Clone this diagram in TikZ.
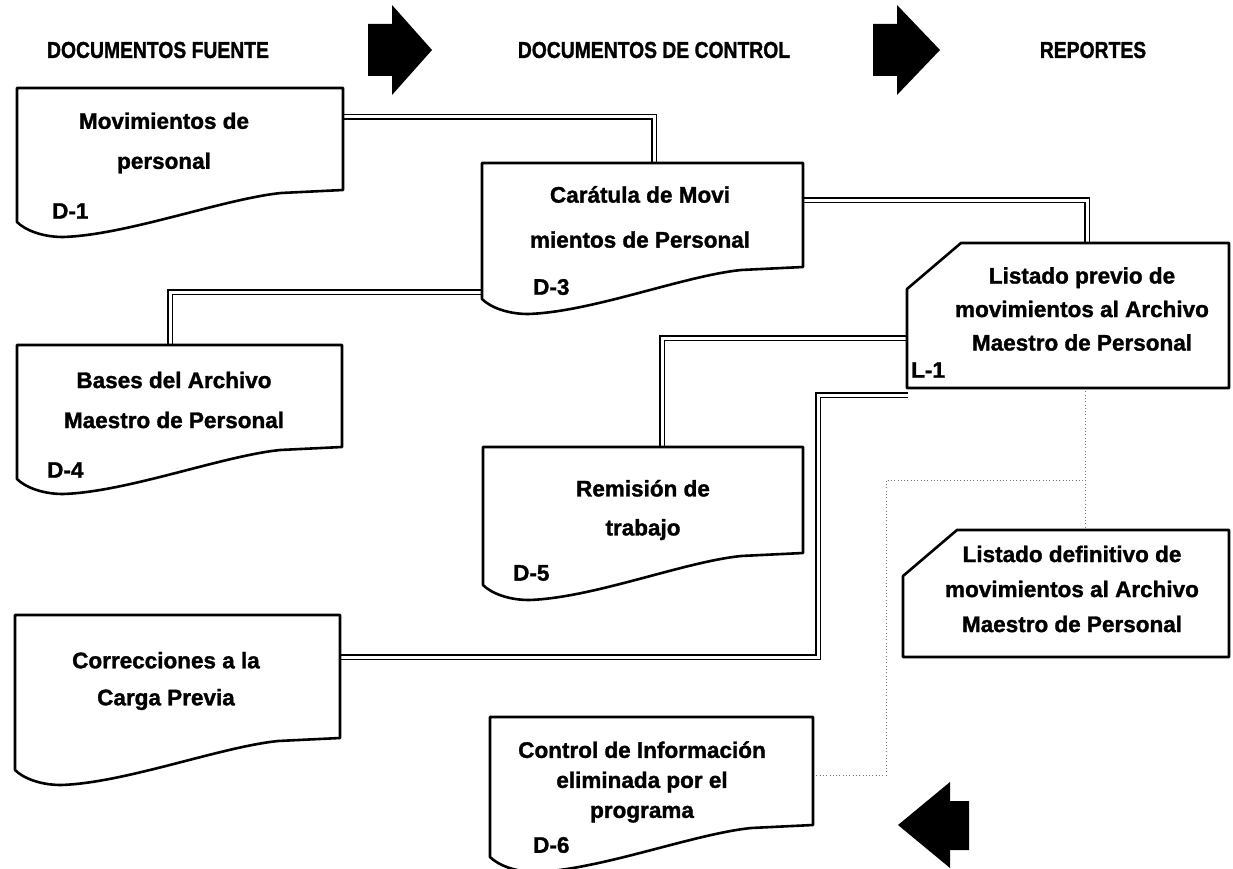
\documentclass[tikz,border=0pt]{standalone}
\usepackage{fontspec}
\setmainfont{Liberation Sans}[BoldFeatures={FakeBold=1.4}]
\usetikzlibrary{calc}

% document symbol: flat top, wavy bottom edge
\newcommand\docoutline[1]{%
  \draw[outline] (#1.north west) -- (#1.north east) -- (#1.south east)
    -- ($(#1.south east)+(-62,3)$)
    .. controls ($(#1.south east)+(-120,9)$) and ($(#1.south west)+(110,45)$) .. ($(#1.south west)+(46,47)$)
    .. controls ($(#1.south west)+(25,47)$) and ($(#1.south west)+(8,40)$) .. ($(#1.south west)+(0,32)$)
    -- cycle;}
% report symbol: rectangle with the top-left corner cut off
\newcommand\cardoutline[1]{%
  \draw[outline] ($(#1.north west)+(54,0)$) -- (#1.north east) -- (#1.south east)
    -- (#1.south west) -- ($(#1.north west)+(0,46)$) -- cycle;}
% narrow setting for the column headings
\newcommand\narrowhead[1]{\scalebox{0.84}[1]{#1}}

\tikzset{
  box/.style={draw=none, inner sep=0pt, outer sep=0pt, anchor=north west},
  outline/.style={draw=black, line width=2.6pt, line join=round},
  txt/.style={font=\bfseries\fontsize{22.5}{#1}\selectfont, align=center, inner sep=0pt},
  tag/.style={font=\bfseries\fontsize{22.5}{27}\selectfont, anchor=west, inner sep=0pt},
  heading/.style={font=\bfseries\fontsize{23}{27}\selectfont, inner sep=0pt},
  pipe/.style={draw=black, double=white, double distance=3pt, line width=1.2pt},
  dots/.style={draw=black!55, line width=0.9pt, dash pattern=on 0.9pt off 2.4pt},
  bigarrow/.style={fill=black, draw=none},
}

\begin{document}
\begin{tikzpicture}[x=1pt,y=-1pt]
\fill[white] (0,0) rectangle (1233,869);
\useasboundingbox (0,0) rectangle (1233,869);

% column headings and flow arrows
\node[heading] (t1) at (158,50) {\narrowhead{DOCUMENTOS FUENTE}};
\node[heading] (t2) at (654,50) {\narrowhead{DOCUMENTOS DE CONTROL}};
\node[heading] (t3) at (1093,50) {\narrowhead{REPORTES}};
\path[bigarrow] (368,24) -- (392,24) -- (392,5) -- (432,50) -- (392,95) -- (392,76) -- (368,76) -- cycle;
\path[bigarrow] (873,24) -- (897,24) -- (897,5) -- (940,50) -- (897,95) -- (897,76) -- (873,76) -- cycle;
\path[bigarrow] (969,801) -- (950,801) -- (950,782) -- (898,825) -- (950,868) -- (950,850) -- (969,850) -- cycle;

% frames of the documents and reports
\node[box, minimum width=326pt, minimum height=102pt] (d1) at (17,88) {};
\node[box, minimum width=321pt, minimum height=104pt] (d3) at (482,163) {};
\node[box, minimum width=325pt, minimum height=102pt] (d4) at (17,345) {};
\node[box, minimum width=320pt, minimum height=106pt] (d5) at (483,447) {};
\node[box, minimum width=325pt, minimum height=123pt] (corr) at (15,615) {};
\node[box, minimum width=323pt, minimum height=108pt] (d6) at (490,717) {};
\node[box, minimum width=322pt, minimum height=145pt] (l1) at (907,243) {};
\node[box, minimum width=326pt, minimum height=127pt] (l2) at (903,530) {};

% double-line connectors
\draw[pipe] ($(d1.north east)+(0,29)$) -| ($(d3.north west)+(172,0)$);
\draw[pipe] ($(d3.north east)+(0,37)$) -| ($(l1.north west)+(180,0)$);
\draw[pipe] ($(d3.south west)+(0,25)$) -| ($(d4.north west)+(153,0)$);
\draw[pipe] ($(l1.south west)+(0,-50)$) -| ($(d5.north west)+(179,0)$);
\coordinate (c5s) at ($(l1.south west)+(1,7)$);
\draw[pipe] (c5s) -- ++(-90,0) |- ($(corr.north east)+(0,42)$);

% dotted connectors
\coordinate (j) at ($(l1.south west)+(178,92)$);
\draw[dots] ($(l1.south west)+(178,0)$) -- ($(l2.north west)+(182,0)$);
\draw[dots] ($(d6.north east)+(0,58)$) -| ($(j)+(-199,0)$) -- (j);

% outlines
\docoutline{d1}
\docoutline{d3}
\docoutline{d4}
\docoutline{d5}
\docoutline{corr}
\docoutline{d6}
\cardoutline{l1}
\cardoutline{l2}

% texts
\node[txt=40] (d1t) at (164,143) {Movimientos de\\personal};
\node[txt=45] (d3t) at (640,217) {Carátula de Movi\\mientos de Personal};
\node[txt=40] (d4t) at (174,400) {Bases del Archivo\\Maestro de Personal};
\node[txt=39] (d5t) at (643,510) {Remisión de\\trabajo};
\node[txt=37] (corrt) at (166,681) {Correcciones a la\\Carga Previa};
\node[txt=30] (d6t) at (642,782) {Control de Información\\eliminada por el\\programa};
\node[txt=33.5] (l1t) at (1082,309) {Listado previo de\\movimientos al Archivo\\Maestro de Personal};
\node[txt=35] (l2t) at (1072,589) {Listado definitivo de\\movimientos al Archivo\\Maestro de Personal};

% document codes
\node[tag] (d1l) at ($(d1.south west)+(35,21)$) {D-1};
\node[tag] (d3l) at ($(d3.south west)+(51,20)$) {D-3};
\node[tag] (d4l) at ($(d4.south west)+(30,23)$) {D-4};
\node[tag] (d5l) at ($(d5.south west)+(30,20)$) {D-5};
\node[tag] (d6l) at ($(d6.south west)+(43,20)$) {D-6};
\node[tag] (l1l) at ($(l1.south west)+(4,-18)$) {L-1};
\end{tikzpicture}
\end{document}
